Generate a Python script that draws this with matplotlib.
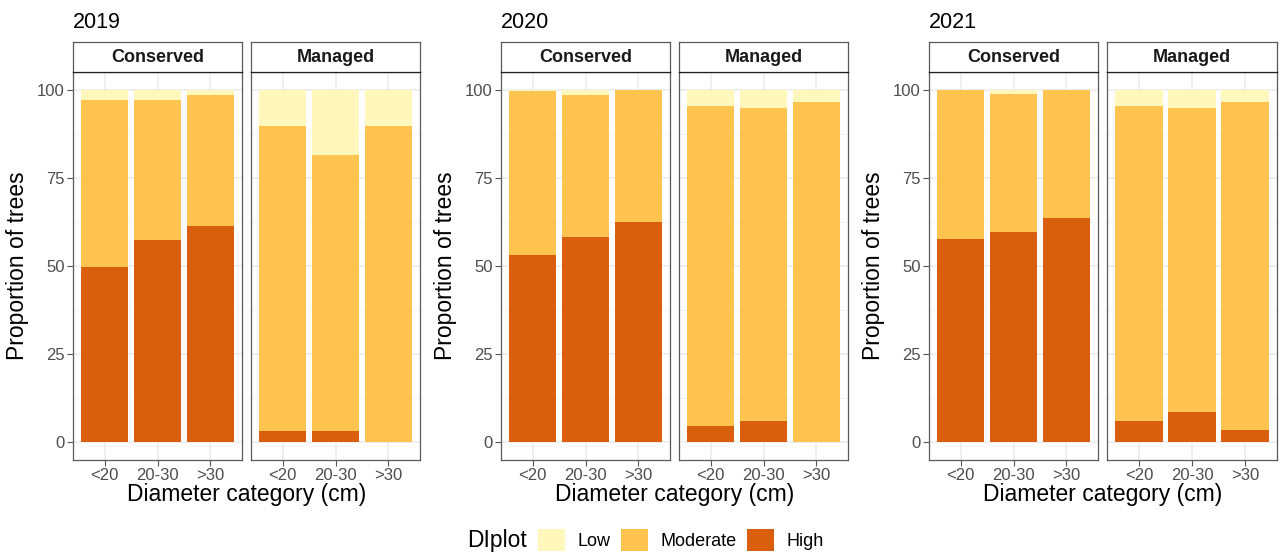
import numpy as np
import matplotlib.pyplot as plt
from matplotlib.patches import Patch

plt.rcParams['font.family'] = ['Liberation Sans', 'DejaVu Sans']

years = ['2019', '2020', '2021']
sites = ['Conserved', 'Managed']
diam = ['<20', '20-30', '>30']
levels = ['Low', 'Moderate', 'High']
colors = {'Low': '#FFF7BC', 'Moderate': '#FEC44F', 'High': '#D95F0E'}

# proportion of trees (%) by DIplot class, per year and site
high_2019_c = [49.6, 57.3, 61.4]
mod_2019_c = [47.4, 39.9, 37.0]
low_2019_c = [3.0, 2.8, 1.6]
high_2019_m = [3.1, 3.1, 0.0]
mod_2019_m = [86.6, 78.5, 89.6]
low_2019_m = [10.3, 18.4, 10.4]

high_2020_c = [53.2, 58.3, 62.4]
mod_2020_c = [46.4, 40.1, 37.6]
low_2020_c = [0.4, 1.6, 0.0]
high_2020_m = [4.6, 6.0, 0.0]
mod_2020_m = [90.9, 88.8, 96.6]
low_2020_m = [4.5, 5.2, 3.4]

high_2021_c = [57.6, 59.7, 63.5]
mod_2021_c = [42.2, 39.0, 36.5]
low_2021_c = [0.2, 1.3, 0.0]
high_2021_m = [6.0, 8.5, 3.5]
mod_2021_m = [89.5, 86.3, 93.1]
low_2021_m = [4.5, 5.2, 3.4]

data = {
    ('2019', 'Conserved'): (high_2019_c, mod_2019_c, low_2019_c),
    ('2019', 'Managed'): (high_2019_m, mod_2019_m, low_2019_m),
    ('2020', 'Conserved'): (high_2020_c, mod_2020_c, low_2020_c),
    ('2020', 'Managed'): (high_2020_m, mod_2020_m, low_2020_m),
    ('2021', 'Conserved'): (high_2021_c, mod_2021_c, low_2021_c),
    ('2021', 'Managed'): (high_2021_m, mod_2021_m, low_2021_m),
}

W, H = 1287, 553
fig = plt.figure(figsize=(W / 100, H / 100), dpi=100)

def rect(x0, y0, x1, y1):
    return [x0 / W, 1 - y1 / H, (x1 - x0) / W, (y1 - y0) / H]

panel_x = {'2019': [(73, 242), (251, 420)],
           '2020': [(501, 670), (679, 848)],
           '2021': [(929, 1098), (1107, 1277)]}
edge = '#5a5a5a'
x = np.arange(1, 4)

for yr in years:
    for j, site in enumerate(sites):
        x0, x1 = panel_x[yr][j]
        ax = fig.add_axes(rect(x0, 72, x1, 460))
        high, mod, low = data[(yr, site)]
        ax.bar(x, high, width=0.9, color=colors['High'], zorder=2)
        ax.bar(x, mod, width=0.9, bottom=high, color=colors['Moderate'], zorder=2)
        ax.bar(x, low, width=0.9, bottom=np.add(high, mod), color=colors['Low'], zorder=2)
        ax.set_xlim(0.4, 3.6)
        ax.set_ylim(-5, 105)
        ax.set_xticks(x)
        ax.set_xticklabels(diam)
        ax.set_yticks([0, 25, 50, 75, 100])
        ax.set_yticks([12.5, 37.5, 62.5, 87.5], minor=True)
        ax.grid(True, which='major', color='#ebebeb', lw=1.1, zorder=0)
        ax.grid(True, which='minor', axis='y', color='#f3f3f3', lw=0.6, zorder=0)
        ax.set_axisbelow(True)
        ax.tick_params(which='major', length=4, color='#555555', labelsize=12,
                       labelcolor='#4d4d4d', pad=2)
        ax.tick_params(which='minor', length=0)
        for s in ax.spines.values():
            s.set_color(edge)
            s.set_linewidth(0.9)
        if j == 0:
            ax.set_ylabel('Proportion of trees', fontsize=16.5, labelpad=6)
        else:
            ax.tick_params(axis='y', left=False, labelleft=False)

        # facet strip
        sx = fig.add_axes(rect(x0, 42, x1, 72))
        sx.set_xticks([])
        sx.set_yticks([])
        sx.set_facecolor('white')
        for s in sx.spines.values():
            s.set_color(edge)
            s.set_linewidth(0.9)
        sx.spines['bottom'].set_color('#222222')
        sx.text(0.5, 0.5, site, ha='center', va='center', fontsize=13,
                fontweight='bold', color='#1a1a1a', transform=sx.transAxes)

    left = panel_x[yr][0][0]
    right = panel_x[yr][1][1]
    fig.text(left / W, 1 - 22 / H, yr, ha='left', va='center', fontsize=15.5)
    fig.text((left + right) / 2 / W, 1 - 494 / H, 'Diameter category (cm)',
             ha='center', va='center', fontsize=16.5)

handles = [Patch(facecolor=colors[l], edgecolor='none', label=l) for l in levels]
fig.text(497 / W, 1 - 540 / H, 'DIplot', ha='center', va='center', fontsize=16.5)
fig.legend(handles=handles, ncol=3, loc='center left',
           bbox_to_anchor=(531 / W, 1 - 540 / H), frameon=False, fontsize=13,
           handlelength=1.5, handleheight=1.5, handletextpad=0.7, columnspacing=0.55,
           borderaxespad=0)

fig.savefig('out.png', dpi=100)
